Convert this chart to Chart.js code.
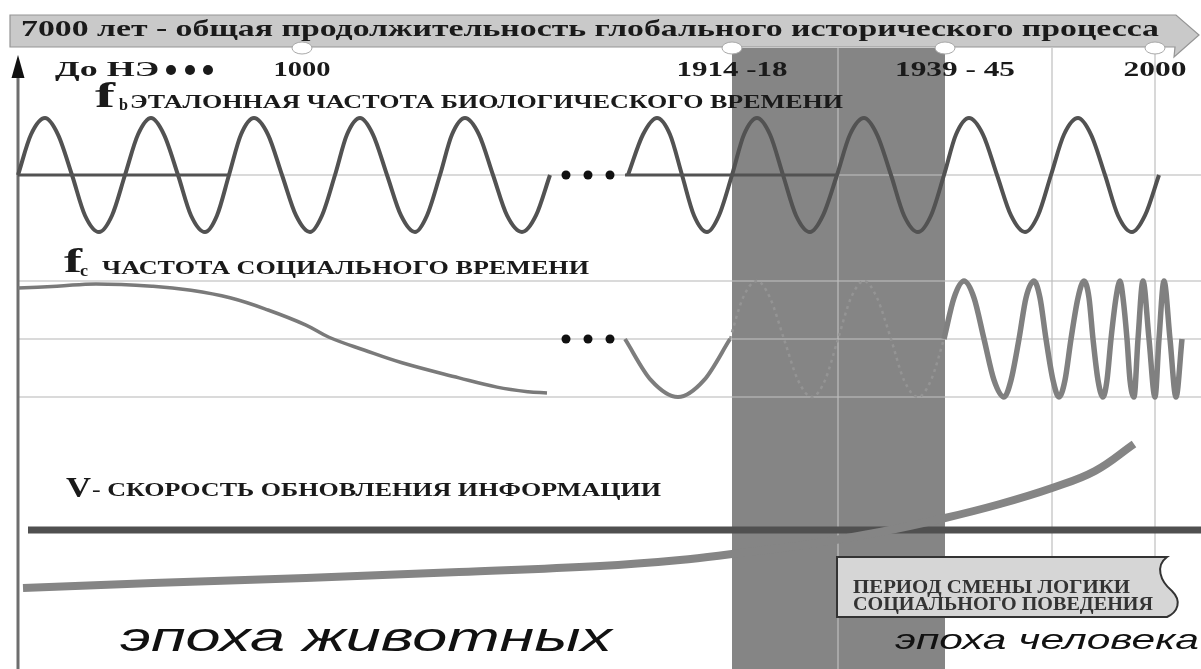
<!DOCTYPE html>
<html lang="ru">
<head>
<meta charset="utf-8">
<title>7000 лет</title>
<script src="https://cdn.jsdelivr.net/npm/chart.js@4.4.1/dist/chart.umd.min.js"></script>
<style>
  html, body { margin: 0; padding: 0; background: #fff; }
  #wrap { position: relative; width: 1201px; height: 669px; }
</style>
</head>
<body>
<div id="wrap"><canvas id="c"></canvas></div>
<script>
const W = 1201, H = 669;

// ---------- data (x = schematic timeline units) ----------
const title = "7000 лет - общая продолжительность глобального исторического процесса";
const eraStartLabel = "До НЭ";
const eraLabels = ["1000", "1914 -18", "1939 - 45", "2000"];
const eraMarks = [302, 732, 945, 1155];
const crisisPeriod = [732, 945];   // 1914 .. 1945
const crisisMid = 838;
const gridX = [1052, 1155];
const originX = 18;
const gapMarks = [566, 588, 610];   // "•••" breaks in the series

// f_b - reference biological frequency (amplitude -1..1)
const bioLeftX = [18, 31, 45, 58, 72, 85, 99, 112, 125, 138, 151, 164, 178, 191, 205, 217,
  229, 241, 254, 268, 282, 296, 310, 322, 335, 347, 360, 373, 387, 401, 415, 427,
  440, 452, 465, 479, 493, 507, 522, 536, 550];
const bioLeftAmp = [0, .71, 1, .71, 0, -.71, -1, -.71, 0, .71, 1, .71, 0, -.71, -1, -.71,
  0, .71, 1, .71, 0, -.71, -1, -.71, 0, .71, 1, .71, 0, -.71, -1, -.71,
  0, .71, 1, .71, 0, -.71, -1, -.71, 0];
const bioRightX = [628, 643, 657, 670, 682, 694, 707, 719, 732, 744, 757, 770, 783, 796, 810, 823,
  837, 850, 864, 877, 891, 904, 918, 931, 944, 956, 969, 983, 997, 1011, 1025, 1038,
  1051, 1064, 1078, 1091, 1105, 1118, 1132, 1145, 1159];
const bioRightAmp = [0, .71, 1, .71, 0, -.71, -1, -.71, 0, .71, 1, .71, 0, -.71, -1, -.71,
  0, .71, 1, .71, 0, -.71, -1, -.71, 0, .71, 1, .71, 0, -.71, -1, -.71,
  0, .71, 1, .71, 0, -.71, -1, -.71, 0];
const bioAxisLeftX = [18, 228];
const bioAxisRightX = [625, 838];

// f_c - social time frequency (amplitude -1..1)
const socLeftX = [18, 57, 96, 153, 191, 230, 268, 306, 329, 364, 402, 459, 497, 528, 547];
const socLeftAmp = [.88, .91, .95, .91, .84, .71, .50, .24, .03, -.19, -.41, -.67, -.83, -.91, -.93];
const socRiseX = [625, 651, 678, 704, 730];
const socRiseAmp = [0, -.71, -1, -.71, 0];
const socCrisisX = [730, 743, 757, 770, 784, 798, 812, 825, 838, 851, 864, 877, 891, 904, 918, 931, 944];
const socCrisisAmp = [0, .71, 1, .71, 0, -.71, -1, -.71, 0, .71, 1, .71, 0, -.71, -1, -.71, 0];
const socModernX = [944, 954, 964, 974, 984, 994, 1004, 1011, 1019, 1026, 1034, 1040, 1046, 1053, 1059, 1065,
  1071, 1078, 1084, 1089, 1093, 1098, 1103, 1107, 1111, 1116, 1120, 1123, 1127, 1130, 1134, 1138,
  1143, 1149, 1155, 1159, 1164, 1170, 1176, 1182];
const socModernAmp = [0, .71, 1, .71, 0, -.71, -1, -.71, 0, .71, 1, .71, 0, -.71, -1, -.71,
  0, .71, 1, .71, 0, -.71, -1, -.71, 0, .71, 1, .71, 0, -.71, -1, 0,
  1, 0, -1, 0, 1, 0, -1, 0];

// V - information renewal speed
const vCurveX = [23, 153, 306, 459, 600, 680, 732, 810, 880, 945, 1000, 1052, 1095, 1134];
const vCurveVal = [1.2, 1.7, 2.2, 2.8, 3.4, 4.0, 4.6, 5.6, 6.8, 8.2, 9.6, 11.2, 12.9, 15.6];
const vRefX = [28, 1201];
const vRefVal = [7, 7];

// ---------- helpers ----------
function pts(xs, ys) { return xs.map((x, i) => ({ x, y: ys[i] })); }

// hidden y axis placing value vTop at pixel pxTop and vBottom at pxBottom
function bandAxis(pxTop, vTop, pxBottom, vBottom) {
  const unit = (pxBottom - pxTop) / (vTop - vBottom);
  const max = vTop + pxTop / unit;
  return { type: "linear", display: false, bounds: "data", max, min: max - H / unit };
}

function line(ctx, x1, y1, x2, y2) {
  ctx.beginPath(); ctx.moveTo(x1, y1); ctx.lineTo(x2, y2); ctx.stroke();
}

// text squeezed/stretched horizontally into a given width
function fitText(ctx, str, left, baseline, width, font, color) {
  ctx.save();
  ctx.font = font;
  ctx.fillStyle = color;
  ctx.textBaseline = "alphabetic";
  ctx.textAlign = "left";
  const w = ctx.measureText(str).width;
  ctx.translate(left, baseline);
  ctx.scale(width / w, 1);
  ctx.fillText(str, 0, 0);
  ctx.restore();
}

function dot(ctx, cx, cy, r) {
  ctx.beginPath(); ctx.arc(cx, cy, r, 0, Math.PI * 2); ctx.fill();
}

const SERIF = '"Liberation Serif", "DejaVu Serif", serif';
const SANS = '"Liberation Sans", Arial, sans-serif';
const INK = "#1a1a1a";

/* ---------- decorations ---------- */
const decor = {
  id: "decor",
  beforeDatasetsDraw(chart) {
    const { ctx, scales } = chart;
    const x = v => scales.x.getPixelForValue(v);
    const yB = v => scales.yBio.getPixelForValue(v);
    const yS = v => scales.ySoc.getPixelForValue(v);
    const top = 48;
    ctx.save();
    // crisis period band
    ctx.fillStyle = "#858585";
    ctx.fillRect(x(crisisPeriod[0]), top, x(crisisPeriod[1]) - x(crisisPeriod[0]), H - top);

    // grid
    ctx.strokeStyle = "rgba(190,190,190,0.75)";
    ctx.lineWidth = 1.6;
    [yB(0), yS(1), yS(0), yS(-1)].forEach(py => line(ctx, x(originX), py, W, py));
    gridX.forEach(v => line(ctx, x(v), top, x(v), 557));
    line(ctx, x(crisisMid), top, x(crisisMid), H);

    // vertical axis
    ctx.strokeStyle = "#6e6e6e";
    ctx.lineWidth = 3;
    line(ctx, x(originX), 70, x(originX), H);
    ctx.restore();
  },
  afterDatasetsDraw(chart) {
    const { ctx, scales } = chart;
    const x = v => scales.x.getPixelForValue(v);
    const yB = v => scales.yBio.getPixelForValue(v);
    const yS = v => scales.ySoc.getPixelForValue(v);
    ctx.save();

    // axis arrow head
    ctx.fillStyle = "#111";
    ctx.beginPath();
    ctx.moveTo(x(originX), 55); ctx.lineTo(x(originX) + 6.5, 78); ctx.lineTo(x(originX) - 6.5, 78);
    ctx.closePath(); ctx.fill();

    // banner arrow
    ctx.beginPath();
    ctx.moveTo(10, 15); ctx.lineTo(1176, 15); ctx.lineTo(1199, 35);
    ctx.lineTo(1174, 57); ctx.lineTo(1175, 47); ctx.lineTo(10, 47);
    ctx.closePath();
    ctx.fillStyle = "#c9c9c9"; ctx.fill();
    ctx.strokeStyle = "#959595"; ctx.lineWidth = 1.2; ctx.stroke();
    fitText(ctx, title, 21, 36, 1138, "bold 23px " + SERIF, INK);

    // era markers on the banner
    eraMarks.forEach(m => {
      ctx.beginPath();
      ctx.ellipse(x(m), 48, 10, 6, 0, 0, Math.PI * 2);
      ctx.fillStyle = "#fff"; ctx.fill();
      ctx.strokeStyle = "#a8a8a8"; ctx.lineWidth = 1; ctx.stroke();
    });

    // era labels
    const tickFont = "bold 20px " + SERIF;
    fitText(ctx, eraStartLabel, 55, 76, 104, tickFont, INK);
    ctx.fillStyle = INK;
    [171, 190, 208].forEach(cx => dot(ctx, cx, 70, 5));
    const lw = [57, 111, 120, 63], shift = [0, 0, 10, 0];
    eraLabels.forEach((t, i) => {
      fitText(ctx, t, x(eraMarks[i]) + shift[i] - lw[i] / 2, 76, lw[i], tickFont, INK);
    });

    // series captions
    const capFont = "bold 18px " + SERIF;
    fitText(ctx, "f", 95, 107, 20, "bold 36px " + SERIF, INK);
    fitText(ctx, "b", 119, 110, 9, "bold 16px " + SERIF, INK);
    fitText(ctx, "ЭТАЛОННАЯ ЧАСТОТА БИОЛОГИЧЕСКОГО ВРЕМЕНИ", 130, 108, 713, capFont, INK);

    fitText(ctx, "f", 64, 272, 18, "bold 34px " + SERIF, INK);
    fitText(ctx, "c", 80, 276, 8, "bold 16px " + SERIF, INK);
    fitText(ctx, "ЧАСТОТА СОЦИАЛЬНОГО ВРЕМЕНИ", 102, 274, 487, capFont, INK);

    fitText(ctx, "V", 66, 497, 25, "bold 29px " + SERIF, INK);
    fitText(ctx, "- СКОРОСТЬ ОБНОВЛЕНИЯ ИНФОРМАЦИИ", 92, 496, 569, capFont, INK);

    // series breaks
    ctx.fillStyle = "#111";
    gapMarks.forEach(g => { dot(ctx, x(g), yB(0), 4.5); dot(ctx, x(g), yS(0), 4.5); });

    // note box
    ctx.beginPath();
    ctx.moveTo(837, 557); ctx.lineTo(1167, 557);
    ctx.bezierCurveTo(1155, 566, 1160, 581, 1172, 591);
    ctx.bezierCurveTo(1182, 601, 1178, 612, 1167, 617);
    ctx.lineTo(837, 617); ctx.closePath();
    ctx.fillStyle = "#d6d6d6"; ctx.fill();
    ctx.strokeStyle = "#333"; ctx.lineWidth = 2; ctx.stroke();
    fitText(ctx, "ПЕРИОД СМЕНЫ ЛОГИКИ", 853, 593, 277, "bold 18px " + SERIF, "#333");
    fitText(ctx, "СОЦИАЛЬНОГО ПОВЕДЕНИЯ", 853, 610, 300, "bold 18px " + SERIF, "#333");

    // epochs
    fitText(ctx, "эпоха животных", 120, 651, 492, "italic 41px " + SANS, "#111");
    fitText(ctx, "эпоха человека", 895, 649, 304, "italic 28px " + SANS, "#111");
    ctx.restore();
  }
};

/* ---------- chart ---------- */
function series(label, xs, ys, axis, style) {
  return Object.assign({
    label, data: pts(xs, ys), yAxisID: axis, showLine: true,
    pointRadius: 0, pointHoverRadius: 0, fill: false,
    cubicInterpolationMode: "monotone", borderCapStyle: "butt", borderJoinStyle: "round"
  }, style);
}

const smooth = { cubicInterpolationMode: "default", tension: 0.4 };

const datasets = [
  series("V", vCurveX, vCurveVal, "yV", Object.assign({ borderColor: "#858585", borderWidth: 8, order: 0 }, smooth)),
  series("V level", vRefX, vRefVal, "yV", { borderColor: "#505050", borderWidth: 7, order: 1 }),
  series("fb", bioLeftX, bioLeftAmp, "yBio", { borderColor: "#525252", borderWidth: 4, order: 2 }),
  series("fb2", bioRightX, bioRightAmp, "yBio", { borderColor: "#525252", borderWidth: 4, order: 2 }),
  series("fb axis", bioAxisLeftX, [0, 0], "yBio", { borderColor: "#525252", borderWidth: 3, order: 3 }),
  series("fb axis2", bioAxisRightX, [0, 0], "yBio", { borderColor: "#525252", borderWidth: 3, order: 3 }),
  series("fc", socLeftX, socLeftAmp, "ySoc", Object.assign({ borderColor: "#7a7a7a", borderWidth: 3.5, order: 2 }, smooth)),
  series("fc2", socRiseX, socRiseAmp, "ySoc", { borderColor: "#7d7d7d", borderWidth: 4, order: 2 }),
  series("fc crisis", socCrisisX, socCrisisAmp, "ySoc", { borderColor: "#949494", borderWidth: 2.5, borderDash: [3, 4], order: 3 }),
  series("fc3", socModernX, socModernAmp, "ySoc", { borderColor: "#808080", borderWidth: 5.5, order: 2 })
];

new Chart(document.getElementById("c"), {
  type: "scatter",
  data: { datasets },
  options: {
    animation: false,
    responsive: true,
    maintainAspectRatio: false,
    events: [],
    layout: { padding: 0 },
    plugins: { legend: { display: false }, tooltip: { enabled: false } },
    scales: {
      x: { type: "linear", display: false, bounds: "data", min: 0, max: W },
      y: { type: "linear", display: false },
      yBio: bandAxis(118, 1, 232, -1),
      ySoc: bandAxis(281, 1, 397, -1),
      yV: bandAxis(500, 10, 600, 0)
    }
  },
  plugins: [decor]
});
</script>
</body>
</html>
